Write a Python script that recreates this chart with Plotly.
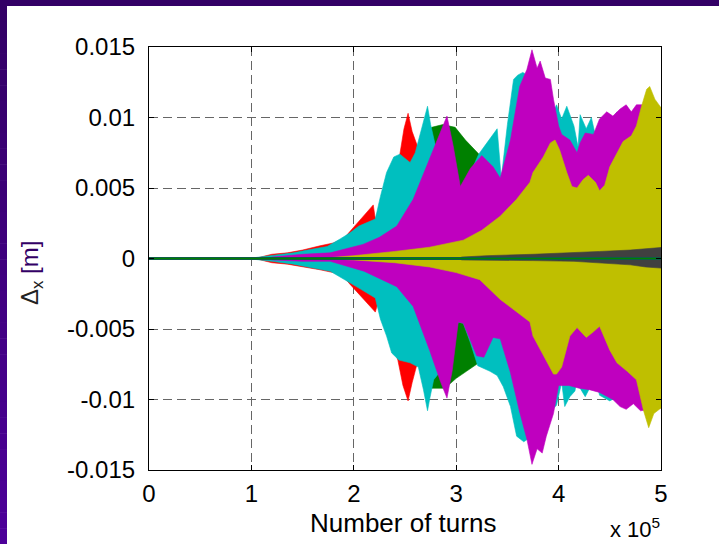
import plotly.graph_objects as go

# Horizontal offset envelopes (turns in units of 1e5, offset in metres).
# Each series is drawn as a filled band between its upper and lower envelope.
red_upper = [(1.05, 0.00003), (1.2, 0.0003), (1.35, 0.0004), (1.5, 0.0006), (1.67, 0.0009),
             (1.8, 0.0011), (1.9, 0.0014), (1.96, 0.0019), (2.05, 0.0026), (2.12, 0.0032),
             (2.19, 0.0038), (2.21, 0.0028), (2.3, 0.0045), (2.4, 0.0065), (2.45, 0.0074),
             (2.49, 0.0092), (2.53, 0.0103), (2.57, 0.0090), (2.62, 0.0080), (2.67, 0.0070)]
red_lower = [(1.05, -0.00003), (1.2, -0.0003), (1.35, -0.0004), (1.5, -0.0006), (1.67, -0.0008),
             (1.8, -0.0010), (1.9, -0.0013), (1.96, -0.0018), (2.05, -0.0025), (2.12, -0.0031),
             (2.21, -0.0038), (2.23, -0.0033), (2.3, -0.0045), (2.43, -0.0072), (2.48, -0.0090),
             (2.53, -0.0101), (2.57, -0.0088), (2.61, -0.0077), (2.67, -0.0070)]

green_upper = [(2.2, 0.0020), (2.5, 0.0055), (2.7, 0.0085), (2.76, 0.0093), (2.87, 0.0095),
               (2.99, 0.0093), (3.09, 0.0084), (3.21, 0.0075), (3.3, 0.0068)]
green_lower = [(2.2, -0.0020), (2.5, -0.0055), (2.7, -0.0085), (2.76, -0.0092), (2.89, -0.0092),
               (3.0, -0.0085), (3.1, -0.0080), (3.2, -0.0075), (3.3, -0.0068)]

cyan_upper = [(1.02, 0.00005), (1.2, 0.0002), (1.41, 0.0004), (1.55, 0.0006), (1.74, 0.00085),
              (1.87, 0.0014), (1.96, 0.0018), (2.05, 0.0023), (2.15, 0.0026), (2.21, 0.0028),
              (2.26, 0.0044), (2.32, 0.0061), (2.39, 0.0072), (2.45, 0.0074), (2.5, 0.0071),
              (2.55, 0.0068), (2.6, 0.0075), (2.65, 0.0088), (2.72, 0.0108), (2.75, 0.0095),
              (2.8, 0.0079), (2.9, 0.0072), (3.0, 0.0055), (3.06, 0.0045), (3.14, 0.0061),
              (3.22, 0.0074), (3.27, 0.0079), (3.34, 0.0086), (3.4, 0.0092), (3.44, 0.0057),
              (3.5, 0.0095), (3.56, 0.0127), (3.6, 0.0130), (3.65, 0.0132), (3.7, 0.0130),
              (3.8, 0.0125), (3.9, 0.0115), (3.95, 0.0104), (3.98, 0.0109), (4.03, 0.0099),
              (4.08, 0.0108), (4.15, 0.0094), (4.19, 0.0079), (4.21, 0.0102), (4.27, 0.0092),
              (4.32, 0.0100), (4.36, 0.0087), (4.45, 0.0092), (4.52, 0.0098), (4.57, 0.0104),
              (4.65, 0.0095), (5.0, 0.0090)]
cyan_lower = [(1.02, -0.00005), (1.2, -0.0002), (1.41, -0.0004), (1.55, -0.0006), (1.77, -0.0009),
              (1.93, -0.0016), (2.05, -0.0021), (2.21, -0.0028), (2.26, -0.0043), (2.32, -0.0055),
              (2.37, -0.0067), (2.44, -0.0072), (2.55, -0.0074), (2.63, -0.0077), (2.68, -0.0093),
              (2.72, -0.0108), (2.74, -0.0100), (2.78, -0.0086), (2.9, -0.0075), (3.02, -0.0045),
              (3.07, -0.0046), (3.14, -0.0060), (3.21, -0.0076), (3.33, -0.0080), (3.4, -0.0083),
              (3.46, -0.0091), (3.53, -0.0105), (3.59, -0.0126), (3.66, -0.0130), (3.7, -0.0128),
              (3.8, -0.0120), (3.9, -0.0110), (3.98, -0.0104), (4.03, -0.0088), (4.06, -0.0105),
              (4.11, -0.0098), (4.16, -0.0094), (4.19, -0.0081), (4.21, -0.0092), (4.26, -0.0098),
              (4.31, -0.0091), (4.37, -0.0088), (4.4, -0.0097), (4.5, -0.0101), (4.55, -0.0099),
              (4.58, -0.0103), (4.65, -0.0098), (5.0, -0.0090)]

magenta_upper = [(1.2, 0.0001), (1.5, 0.0003), (1.77, 0.0004), (2.09, 0.0010), (2.25, 0.0015),
                 (2.42, 0.0023), (2.58, 0.0042), (2.74, 0.0070), (2.85, 0.0090), (2.91, 0.0101),
                 (2.97, 0.0080), (3.04, 0.0051), (3.14, 0.0064), (3.25, 0.0073), (3.36, 0.0065),
                 (3.43, 0.0057), (3.53, 0.0084), (3.62, 0.0122), (3.69, 0.0134), (3.74, 0.0148),
                 (3.79, 0.0135), (3.82, 0.0140), (3.87, 0.0128), (3.92, 0.0127), (3.95, 0.0113),
                 (4.0, 0.0094), (4.03, 0.0088), (4.11, 0.0084), (4.18, 0.0075), (4.21, 0.0082),
                 (4.26, 0.0089), (4.34, 0.0088), (4.4, 0.0099), (4.47, 0.0104), (4.53, 0.0101),
                 (4.6, 0.0106), (4.66, 0.0109), (4.71, 0.0104), (4.76, 0.0109), (4.83, 0.0109),
                 (5.0, 0.0107)]
magenta_lower = [(1.2, -0.0001), (1.5, -0.0002), (1.77, -0.0002), (2.1, -0.0009), (2.42, -0.0020),
                 (2.58, -0.0034), (2.74, -0.0065), (2.85, -0.0088), (2.91, -0.0099), (2.96, -0.0080),
                 (3.02, -0.0045), (3.07, -0.0046), (3.2, -0.0069), (3.27, -0.0070), (3.36, -0.0056),
                 (3.43, -0.0057), (3.53, -0.0081), (3.62, -0.0109), (3.69, -0.0128), (3.74, -0.0146),
                 (3.79, -0.0135), (3.84, -0.0138), (3.88, -0.0126), (3.95, -0.0110), (4.0, -0.0090),
                 (4.1, -0.0090), (4.2, -0.0092), (4.3, -0.0093), (4.4, -0.0095), (4.53, -0.0100),
                 (4.6, -0.0105), (4.66, -0.0107), (4.73, -0.0103), (4.8, -0.0108), (5.0, -0.0106)]

yellow_upper = [(1.75, 0.00005), (2.0, 0.0002), (2.4, 0.0005), (2.74, 0.0008), (3.07, 0.0013),
                (3.25, 0.0020), (3.43, 0.0030), (3.59, 0.0042), (3.72, 0.0054), (3.75, 0.0061),
                (3.85, 0.0072), (3.92, 0.0082), (3.965, 0.0084), (4.01, 0.0077), (4.08, 0.0061),
                (4.13, 0.0051), (4.18, 0.0050), (4.24, 0.0056), (4.29, 0.0059), (4.36, 0.0054),
                (4.4, 0.0048), (4.45, 0.0052), (4.5, 0.0065), (4.57, 0.0075), (4.63, 0.0083),
                (4.71, 0.0087), (4.76, 0.0094), (4.81, 0.0108), (4.86, 0.0120), (4.89, 0.0122),
                (4.94, 0.0113), (5.0, 0.0107)]
yellow_lower = [(1.75, -0.00002), (2.0, -0.0001), (2.4, -0.0003), (2.74, -0.0006), (3.0, -0.0010),
                (3.23, -0.0015), (3.43, -0.0029), (3.56, -0.0036), (3.59, -0.0038), (3.72, -0.0045),
                (3.75, -0.0055), (3.85, -0.0069), (3.95, -0.0082), (3.98, -0.0082), (4.03, -0.0077),
                (4.11, -0.0055), (4.18, -0.0049), (4.27, -0.0056), (4.34, -0.0052), (4.4, -0.0048),
                (4.5, -0.0065), (4.57, -0.0074), (4.67, -0.0080), (4.76, -0.0086), (4.83, -0.0108),
                (4.88, -0.0120), (4.93, -0.0110), (5.0, -0.0106)]

gray_upper = [(3.05, 0.0001), (3.3, 0.0002), (3.75, 0.0003), (4.15, 0.0004), (4.4, 0.0005),
              (4.7, 0.0006), (4.85, 0.0007), (5.0, 0.00078)]
gray_lower = [(3.05, -0.0001), (3.3, -0.0001), (3.75, -0.00015), (4.15, -0.0002), (4.4, -0.0003),
              (4.7, -0.00045), (4.85, -0.0006), (5.0, -0.00068)]

reference_turns = [0.0, 5.0]
reference_dx = [0.0, 0.0]

x_ticks = [0, 1, 2, 3, 4, 5]
y_ticks = [-0.015, -0.01, -0.005, 0, 0.005, 0.01, 0.015]
y_tick_text = ["-0.015", "-0.01", "-0.005", "0", "0.005", "0.01", "0.015"]

bands = [
    (red_upper, red_lower, "#ff0000"),
    (green_upper, green_lower, "#008000"),
    (cyan_upper, cyan_lower, "#00bfbf"),
    (magenta_upper, magenta_lower, "#bf00bf"),
    (yellow_upper, yellow_lower, "#bfbf00"),
    (gray_upper, gray_lower, "#404040"),
]

FONT = "Liberation Sans, Arial, sans-serif"
W, H = 719, 544
L, R, T, B = 149, 58, 47, 74
PW, PH = W - L - R, H - T - B


def px_x(p):
    return (p - L) / PW


def px_y(p):
    return (H - B - p) / PH


fig = go.Figure()
for upper, lower, color in bands:
    xs = [p[0] for p in upper] + [p[0] for p in reversed(lower)]
    ys = [p[1] for p in upper] + [p[1] for p in reversed(lower)]
    fig.add_trace(go.Scatter(x=xs, y=ys, mode="lines", fill="toself", fillcolor=color,
                             line=dict(color=color, width=0.6), hoverinfo="skip",
                             showlegend=False))

fig.add_trace(go.Scatter(x=reference_turns, y=reference_dx, mode="lines",
                         line=dict(color="#1a3a8a", width=3.2), hoverinfo="skip", showlegend=False))
fig.add_trace(go.Scatter(x=reference_turns, y=reference_dx, mode="lines",
                         line=dict(color="#008000", width=2.2), hoverinfo="skip", showlegend=False))

axis_common = dict(
    showline=True, linecolor="black", linewidth=1.2, mirror="ticks",
    ticks="inside", ticklen=5, tickcolor="black", tickwidth=1,
    showgrid=True, gridcolor="#666666", gridwidth=1, griddash="9px,5px",
    zeroline=False, tickfont=dict(family=FONT, size=24, color="black"),
)

fig.update_xaxes(range=[0, 5], tickvals=x_ticks, ticktext=[str(v) for v in x_ticks],
                 ticklabelstandoff=2, **axis_common)
fig.update_yaxes(range=[-0.015, 0.015], tickvals=y_ticks, ticktext=y_tick_text,
                 ticklabelstandoff=8, **axis_common)

# Purple frame along the top and left edges of the page
shapes = [dict(type="rect", xref="paper", yref="paper", x0=px_x(0), x1=px_x(W),
               y0=px_y(6), y1=px_y(0), fillcolor="#330066", line=dict(width=0), layer="below")]
steps = 34
for i in range(steps):
    t = i / (steps - 1)
    r = int(0x33 + (0x4d - 0x33) * t)
    g = 0
    b = int(0x66 + (0x99 - 0x66) * t)
    y_top = 6 + (H - 6) * i / steps
    y_bot = 6 + (H - 6) * (i + 1) / steps + 0.5
    shapes.append(dict(type="rect", xref="paper", yref="paper", x0=px_x(0), x1=px_x(7),
                       y0=px_y(y_bot), y1=px_y(y_top),
                       fillcolor=f"rgb({r},{g},{b})", line=dict(width=0), layer="below"))

annotations = [
    dict(text="Number of turns", xref="paper", yref="paper", x=px_x(403), y=px_y(523),
         xanchor="center", yanchor="middle", showarrow=False,
         font=dict(family=FONT, size=26, color="black")),
    dict(text="x 10<sup>5</sup>", xref="paper", yref="paper", x=px_x(662), y=px_y(544),
         xanchor="right", yanchor="bottom", showarrow=False,
         font=dict(family=FONT, size=22, color="black")),
    dict(text="Δ<sub>x</sub> <span style='color:#330066'>[m]</span>", xref="paper", yref="paper",
         x=px_x(31), y=px_y(273), xanchor="center", yanchor="middle", textangle=-90,
         showarrow=False, font=dict(family=FONT, size=24, color="#222222")),
]

fig.update_layout(
    width=W, height=H, margin=dict(l=L, r=R, t=T, b=B),
    paper_bgcolor="white", plot_bgcolor="white",
    shapes=shapes, annotations=annotations, showlegend=False,
)

fig.write_html("out.html")
